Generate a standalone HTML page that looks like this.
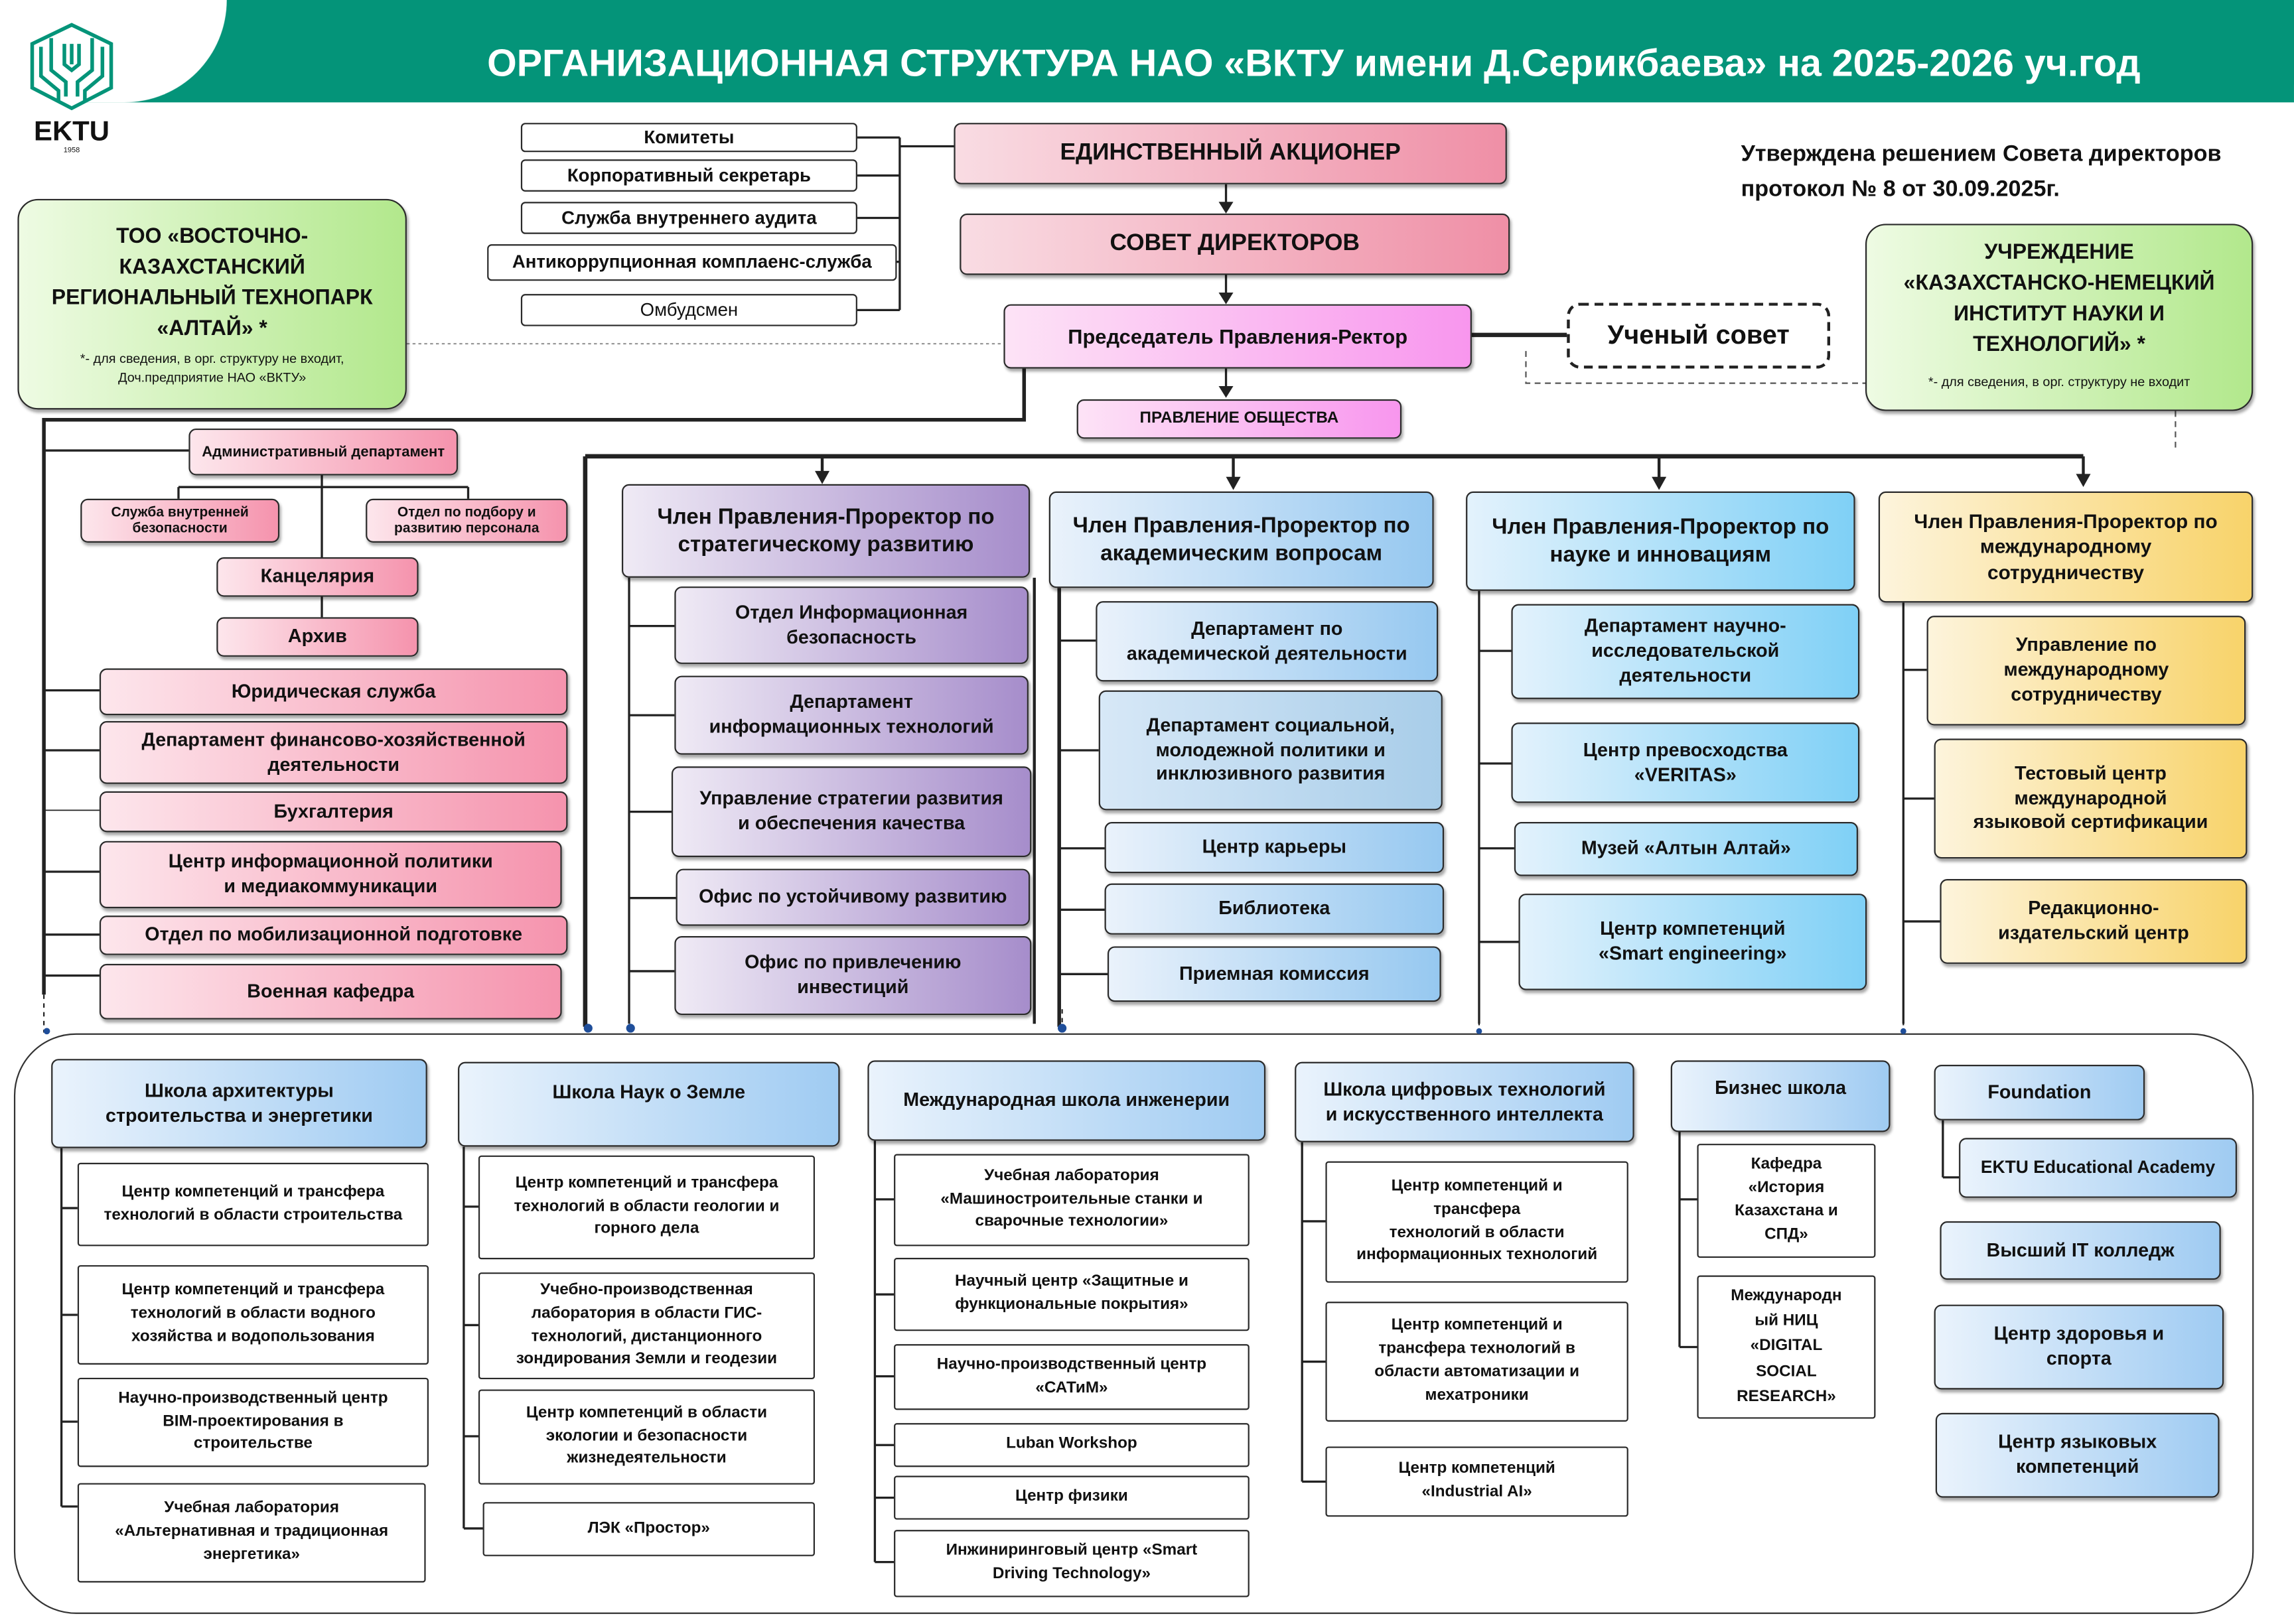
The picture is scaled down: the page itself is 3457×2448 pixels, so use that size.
<!DOCTYPE html>
<html><head><meta charset="utf-8">
<style>
html,body{margin:0;padding:0;background:#fff;}
#wrap{width:3457px;height:2448px;overflow:hidden;position:relative;}
#c{position:absolute;left:0;top:0;width:1568px;height:1110px;transform:scale(2.2047);transform-origin:0 0;font-family:"Liberation Sans","DejaVu Sans",sans-serif;}
.b{position:absolute;display:flex;align-items:center;justify-content:center;text-align:center;font-weight:bold;box-sizing:border-box;border:1.5px solid #2a2a2a;border-radius:5px;color:#111;line-height:1.3;box-shadow:1px 2px 2px rgba(0,0,0,.35);padding:0 3px;}
.w{background:#fff;border-radius:2px;box-shadow:none;font-size:11px;line-height:1.45;}
.wt{background:#fff;border-radius:3px;box-shadow:none;font-size:12.5px;}
.pk{background:linear-gradient(90deg,#fde6ec,#f593ad);font-size:13px;}
.pk2{background:linear-gradient(90deg,#f9dce3,#ef8fa6);font-size:16px;}
.mg{background:linear-gradient(90deg,#fde3f6,#f896ee);font-size:14px;}
.pu{background:linear-gradient(90deg,#efeaf5,#a68dcb);font-size:13px;}
.bl{background:linear-gradient(90deg,#eaf2fb,#96c8f0);font-size:13px;}
.sc{background:linear-gradient(90deg,#e3f2fc,#7fd0f6);font-size:13px;}
.ye{background:linear-gradient(90deg,#fdf4dc,#f8d36a);font-size:13px;}
.gr{background:linear-gradient(90deg,#eefbe3,#b2e88c);border-radius:14px;flex-direction:column;}
.sh{background:linear-gradient(90deg,#eaf3fc,#9fcbf2);font-size:13px;}
.hd{font-size:15px;}
svg{position:absolute;left:0;top:0;}
</style></head><body><div id="wrap"><div id="c">
<div style="position:absolute;left:0;top:0;width:1568px;height:70px;background:#049479;"></div>
<div style="position:absolute;left:-60px;top:-40px;width:215px;height:110px;background:#fff;border-radius:0 0 70px 0;"></div>
<div style="position:absolute;left:333px;top:28px;width:1150px;color:#fff;font-weight:bold;font-size:26px;white-space:nowrap;">ОРГАНИЗАЦИОННАЯ СТРУКТУРА НАО «ВКТУ имени Д.Серикбаева» на 2025-2026 уч.год</div>
<svg width="1568" height="1110" viewBox="0 0 1568 1110">
<g fill="none" stroke="#049479" stroke-width="2.5">
<polygon points="49,17 76,30 76,60 49,74 22,60 22,30"/>
<polyline points="28,32 28,52 40,62 40,70"/><polyline points="70,32 70,52 58,62 58,70"/>
<polyline points="35,26 35,48 45,56 45,66"/><polyline points="63,26 63,48 53,56 53,66"/>
<polyline points="44,30 44,44 49,48 54,44 54,30"/><line x1="49" y1="30" x2="49" y2="44"/>
</g>
<text x="49" y="96" font-size="19" font-weight="bold" text-anchor="middle" fill="#111" font-family="Liberation Sans">EKTU</text>
<text x="49" y="104" font-size="5" text-anchor="middle" fill="#111" font-family="Liberation Sans">1958</text>
<g stroke="#222" stroke-width="1.5" fill="none">
<line x1="586" y1="94" x2="615" y2="94"/><line x1="586" y1="120" x2="615" y2="120"/><line x1="586" y1="149" x2="615" y2="149"/><line x1="613" y1="179" x2="615" y2="179"/><line x1="586" y1="212" x2="615" y2="212"/>
<line x1="615" y1="94" x2="615" y2="212"/><line x1="615" y1="100" x2="652" y2="100"/>
<line x1="838" y1="126" x2="838" y2="140"/><line x1="838" y1="188" x2="838" y2="202"/><line x1="838" y1="252" x2="838" y2="266"/>
<line x1="1006" y1="229" x2="1071" y2="229" stroke-width="3"/>
<line x1="278" y1="235" x2="686" y2="235" stroke="#999" stroke-dasharray="2,2" stroke-width="1"/>
<polyline points="1043,240 1043,262 1275,262" stroke="#555" stroke-dasharray="4,3" stroke-width="1"/>
<line x1="1487" y1="281" x2="1487" y2="306" stroke="#555" stroke-dasharray="4,3" stroke-width="1"/>
<polyline points="700,252 700,287 30,287 30,680" stroke-width="2.5"/>
<line x1="30" y1="680" x2="30" y2="706" stroke-dasharray="3,3" stroke-width="1"/>
<line x1="30" y1="308" x2="129" y2="308"/>
<line x1="220" y1="325" x2="220" y2="381"/>
<line x1="122" y1="333" x2="320" y2="333"/><line x1="122" y1="333" x2="122" y2="341"/><line x1="320" y1="333" x2="320" y2="341"/>
<line x1="220" y1="408" x2="220" y2="422"/>
<line x1="30" y1="472" x2="68" y2="472"/><line x1="30" y1="513" x2="68" y2="513"/><line x1="30" y1="554" x2="68" y2="554" stroke-width="0.8"/><line x1="30" y1="596" x2="68" y2="596"/><line x1="30" y1="639" x2="68" y2="639"/><line x1="30" y1="667" x2="68" y2="667"/>
<line x1="400" y1="312" x2="1424" y2="312" stroke-width="3"/>
<line x1="562" y1="312" x2="562" y2="324" stroke-width="2"/><line x1="843" y1="312" x2="843" y2="328" stroke-width="2"/><line x1="1134" y1="312" x2="1134" y2="328" stroke-width="2"/><line x1="1424" y1="312" x2="1424" y2="326" stroke-width="2"/>
<line x1="400" y1="312" x2="400" y2="702" stroke-width="3"/>
<line x1="430" y1="395" x2="430" y2="700"/>
<line x1="430" y1="428" x2="461" y2="428"/><line x1="430" y1="489" x2="461" y2="489"/><line x1="430" y1="555" x2="459" y2="555"/><line x1="430" y1="614" x2="462" y2="614"/><line x1="430" y1="664" x2="461" y2="664"/>
<line x1="707" y1="395" x2="707" y2="700" stroke-width="2"/>
<line x1="724" y1="402" x2="724" y2="702" stroke-width="2.5"/>
<line x1="724" y1="438" x2="749" y2="438"/><line x1="724" y1="513" x2="751" y2="513"/><line x1="724" y1="580" x2="755" y2="580"/><line x1="724" y1="622" x2="755" y2="622"/><line x1="724" y1="666" x2="757" y2="666"/>
<line x1="1011" y1="404" x2="1011" y2="700"/>
<line x1="1011" y1="445" x2="1033" y2="445"/><line x1="1011" y1="522" x2="1033" y2="522"/><line x1="1011" y1="580" x2="1035" y2="580"/><line x1="1011" y1="644" x2="1038" y2="644"/>
<line x1="1301" y1="412" x2="1301" y2="700"/>
<line x1="1301" y1="458" x2="1317" y2="458"/><line x1="1301" y1="546" x2="1322" y2="546"/><line x1="1301" y1="630" x2="1326" y2="630"/>
<g stroke-dasharray="3,3" stroke-width="1"><line x1="430" y1="690" x2="430" y2="706"/><line x1="726" y1="690" x2="726" y2="706"/><line x1="1011" y1="680" x2="1011" y2="706"/><line x1="1301" y1="680" x2="1301" y2="706"/></g>
<rect x="10" y="707" width="1530" height="396" rx="42" stroke="#333" stroke-width="1"/>
<line x1="42" y1="785" x2="42" y2="1030"/><line x1="42" y1="826" x2="53" y2="826"/><line x1="42" y1="899" x2="53" y2="899"/><line x1="42" y1="972" x2="53" y2="972"/><line x1="42" y1="1030" x2="53" y2="1030"/>
<line x1="317" y1="784" x2="317" y2="1045"/><line x1="317" y1="825" x2="327" y2="825"/><line x1="317" y1="906" x2="327" y2="906"/><line x1="317" y1="982" x2="327" y2="982"/><line x1="317" y1="1045" x2="330" y2="1045"/>
<line x1="598" y1="780" x2="598" y2="1068"/><line x1="598" y1="820" x2="611" y2="820"/><line x1="598" y1="885" x2="611" y2="885"/><line x1="598" y1="941" x2="611" y2="941"/><line x1="598" y1="988" x2="611" y2="988"/><line x1="598" y1="1024" x2="611" y2="1024"/><line x1="598" y1="1068" x2="611" y2="1068"/>
<line x1="890" y1="781" x2="890" y2="1013"/><line x1="890" y1="835" x2="906" y2="835"/><line x1="890" y1="931" x2="906" y2="931"/><line x1="890" y1="1013" x2="906" y2="1013"/>
<line x1="1148" y1="774" x2="1148" y2="921"/><line x1="1148" y1="820" x2="1160" y2="820"/><line x1="1148" y1="921" x2="1160" y2="921"/>
<line x1="1328" y1="766" x2="1328" y2="805"/><line x1="1328" y1="805" x2="1339" y2="805"/>
</g>
<g fill="#222">
<polygon points="833,138 843,138 838,146"/><polygon points="833,200 843,200 838,208"/><polygon points="833,264 843,264 838,272"/>
<polygon points="557,322 567,322 562,331"/><polygon points="838,326 848,326 843,335"/><polygon points="1129,326 1139,326 1134,335"/><polygon points="1419,324 1429,324 1424,333"/>
</g>
<g fill="#1f4e9a"><circle cx="32" cy="705" r="2.2"/><circle cx="402" cy="703" r="3"/><circle cx="431" cy="703" r="3"/><circle cx="726" cy="703" r="3"/><circle cx="1011" cy="705" r="2"/><circle cx="1301" cy="705" r="2"/></g>
</svg>

<div style="position:absolute;left:1190px;top:94px;font-weight:bold;font-size:15.5px;line-height:24px;color:#111;">Утверждена решением Совета директоров<br>протокол № 8 от 30.09.2025г.</div>

<div class="b wt" style="left:356px;top:84px;width:230px;height:20px;">Комитеты</div>
<div class="b wt" style="left:356px;top:109px;width:230px;height:22px;">Корпоративный секретарь</div>
<div class="b wt" style="left:356px;top:138px;width:230px;height:22px;">Служба внутреннего аудита</div>
<div class="b wt" style="left:333px;top:167px;width:280px;height:25px;">Антикоррупционная комплаенс-служба</div>
<div class="b wt" style="left:356px;top:201px;width:230px;height:22px;font-weight:normal;">Омбудсмен</div>

<div class="b pk2" style="left:652px;top:84px;width:378px;height:42px;">ЕДИНСТВЕННЫЙ АКЦИОНЕР</div>
<div class="b pk2" style="left:656px;top:146px;width:376px;height:42px;">СОВЕТ ДИРЕКТОРОВ</div>
<div class="b mg" style="left:686px;top:208px;width:320px;height:44px;">Председатель Правления-Ректор</div>
<div class="b" style="left:1071px;top:207px;width:180px;height:45px;border:2px dashed #222;border-radius:9px;box-shadow:none;font-size:18px;background:#fff;">Ученый совет</div>
<div class="b mg" style="left:736px;top:273px;width:222px;height:27px;font-size:11px;">ПРАВЛЕНИЕ ОБЩЕСТВА</div>

<div class="b gr" style="left:12px;top:136px;width:266px;height:144px;font-size:14.5px;line-height:21px;">ТОО «ВОСТОЧНО-<br>КАЗАХСТАНСКИЙ<br>РЕГИОНАЛЬНЫЙ ТЕХНОПАРК<br>«АЛТАЙ» *<span style="font-size:9px;font-weight:normal;line-height:13px;margin-top:3px;">*- для сведения, в орг. структуру не входит,<br>Доч.предприятие НАО «ВКТУ»</span></div>
<div class="b gr" style="left:1275px;top:153px;width:265px;height:128px;font-size:14.5px;line-height:21px;">УЧРЕЖДЕНИЕ<br>«КАЗАХСТАНСКО-НЕМЕЦКИЙ<br>ИНСТИТУТ НАУКИ И<br>ТЕХНОЛОГИЙ» *<span style="font-size:9px;font-weight:normal;margin-top:4px;">*- для сведения, в орг. структуру не входит</span></div>

<div class="b pk" style="left:129px;top:293px;width:184px;height:32px;font-size:10px;">Административный департамент</div>
<div class="b pk" style="left:55px;top:341px;width:136px;height:30px;font-size:9.5px;line-height:1.2;">Служба внутренней<br>безопасности</div>
<div class="b pk" style="left:250px;top:341px;width:138px;height:30px;font-size:9.5px;line-height:1.2;">Отдел по подбору и<br>развитию персонала</div>
<div class="b pk" style="left:148px;top:381px;width:138px;height:27px;">Канцелярия</div>
<div class="b pk" style="left:148px;top:422px;width:138px;height:27px;">Архив</div>
<div class="b pk" style="left:68px;top:457px;width:320px;height:32px;">Юридическая служба</div>
<div class="b pk" style="left:68px;top:493px;width:320px;height:43px;">Департамент финансово-хозяйственной<br>деятельности</div>
<div class="b pk" style="left:68px;top:541px;width:320px;height:28px;">Бухгалтерия</div>
<div class="b pk" style="left:68px;top:575px;width:316px;height:46px;">Центр информационной политики<br>и медиакоммуникации</div>
<div class="b pk" style="left:68px;top:626px;width:320px;height:27px;">Отдел по мобилизационной подготовке</div>
<div class="b pk" style="left:68px;top:659px;width:316px;height:38px;">Военная кафедра</div>

<div class="b pu hd" style="left:425px;top:331px;width:279px;height:64px;">Член Правления-Проректор по<br>стратегическому развитию</div>
<div class="b pu" style="left:461px;top:401px;width:242px;height:53px;">Отдел Информационная<br>безопасность</div>
<div class="b pu" style="left:461px;top:462px;width:242px;height:54px;">Департамент<br>информационных технологий</div>
<div class="b pu" style="left:459px;top:524px;width:246px;height:62px;">Управление стратегии развития<br>и обеспечения качества</div>
<div class="b pu" style="left:462px;top:594px;width:242px;height:39px;">Офис по устойчивому развитию</div>
<div class="b pu" style="left:461px;top:640px;width:244px;height:54px;">Офис по привлечению<br>инвестиций</div>

<div class="b bl hd" style="left:717px;top:336px;width:263px;height:66px;">Член Правления-Проректор по<br>академическим вопросам</div>
<div class="b bl" style="left:749px;top:411px;width:234px;height:55px;">Департамент по<br>академической деятельности</div>
<div class="b bl" style="left:751px;top:472px;width:235px;height:82px;background:linear-gradient(90deg,#d7e8f7,#a8cde9);">Департамент социальной,<br>молодежной политики и<br>инклюзивного развития</div>
<div class="b bl" style="left:755px;top:562px;width:232px;height:35px;">Центр карьеры</div>
<div class="b bl" style="left:755px;top:604px;width:232px;height:35px;">Библиотека</div>
<div class="b bl" style="left:757px;top:647px;width:228px;height:38px;">Приемная комиссия</div>

<div class="b sc hd" style="left:1002px;top:336px;width:266px;height:68px;">Член Правления-Проректор по<br>науке и инновациям</div>
<div class="b sc" style="left:1033px;top:413px;width:238px;height:65px;">Департамент научно-<br>исследовательской<br>деятельности</div>
<div class="b sc" style="left:1033px;top:494px;width:238px;height:55px;">Центр превосходства<br>«VERITAS»</div>
<div class="b sc" style="left:1035px;top:562px;width:235px;height:37px;">Музей «Алтын Алтай»</div>
<div class="b sc" style="left:1038px;top:611px;width:238px;height:66px;">Центр компетенций<br>«Smart engineering»</div>

<div class="b ye hd" style="left:1284px;top:336px;width:256px;height:76px;font-size:13.5px;">Член Правления-Проректор по<br>международному<br>сотрудничеству</div>
<div class="b ye" style="left:1317px;top:421px;width:218px;height:75px;">Управление по<br>международному<br>сотрудничеству</div>
<div class="b ye" style="left:1322px;top:505px;width:214px;height:82px;">Тестовый центр<br>международной<br>языковой сертификации</div>
<div class="b ye" style="left:1326px;top:601px;width:210px;height:58px;">Редакционно-<br>издательский центр</div>

<div class="b sh" style="left:35px;top:724px;width:257px;height:61px;">Школа архитектуры<br>строительства и энергетики</div>
<div class="b w" style="left:53px;top:795px;width:240px;height:57px;">Центр компетенций и трансфера<br>технологий в области строительства</div>
<div class="b w" style="left:53px;top:865px;width:240px;height:68px;">Центр компетенций и трансфера<br>технологий в области водного<br>хозяйства и водопользования</div>
<div class="b w" style="left:53px;top:942px;width:240px;height:61px;">Научно-производственный центр<br>BIM-проектирования в<br>строительстве</div>
<div class="b w" style="left:53px;top:1014px;width:238px;height:68px;">Учебная лаборатория<br>«Альтернативная и традиционная<br>энергетика»</div>

<div class="b sh" style="left:313px;top:726px;width:261px;height:58px;align-items:flex-start;padding-top:12px;">Школа Наук о Земле</div>
<div class="b w" style="left:327px;top:790px;width:230px;height:71px;">Центр компетенций и трансфера<br>технологий в области геологии и<br>горного дела</div>
<div class="b w" style="left:327px;top:870px;width:230px;height:73px;">Учебно-производственная<br>лаборатория в области ГИС-<br>технологий, дистанционного<br>зондирования Земли и геодезии</div>
<div class="b w" style="left:327px;top:950px;width:230px;height:65px;">Центр компетенций в области<br>экологии и безопасности<br>жизнедеятельности</div>
<div class="b w" style="left:330px;top:1027px;width:227px;height:37px;">ЛЭК «Простор»</div>

<div class="b sh" style="left:593px;top:725px;width:272px;height:55px;">Международная школа инженерии</div>
<div class="b w" style="left:611px;top:789px;width:243px;height:63px;">Учебная лаборатория<br>«Машиностроительные станки и<br>сварочные технологии»</div>
<div class="b w" style="left:611px;top:860px;width:243px;height:50px;">Научный центр «Защитные и<br>функциональные покрытия»</div>
<div class="b w" style="left:611px;top:919px;width:243px;height:45px;">Научно-производственный центр<br>«САТиМ»</div>
<div class="b w" style="left:611px;top:973px;width:243px;height:30px;">Luban Workshop</div>
<div class="b w" style="left:611px;top:1009px;width:243px;height:30px;">Центр физики</div>
<div class="b w" style="left:611px;top:1046px;width:243px;height:46px;">Инжиниринговый центр «Smart<br>Driving Technology»</div>

<div class="b sh" style="left:885px;top:726px;width:232px;height:55px;">Школа цифровых технологий<br>и искусственного интеллекта</div>
<div class="b w" style="left:906px;top:794px;width:207px;height:83px;">Центр компетенций и<br>трансфера<br>технологий в области<br>информационных технологий</div>
<div class="b w" style="left:906px;top:890px;width:207px;height:82px;">Центр компетенций и<br>трансфера технологий в<br>области автоматизации и<br>мехатроники</div>
<div class="b w" style="left:906px;top:989px;width:207px;height:48px;">Центр компетенций<br>«Industrial AI»</div>

<div class="b sh" style="left:1142px;top:725px;width:150px;height:49px;align-items:flex-start;padding-top:10px;">Бизнес школа</div>
<div class="b w" style="left:1160px;top:782px;width:122px;height:78px;">Кафедра<br>«История<br>Казахстана и<br>СПД»</div>
<div class="b w" style="left:1160px;top:872px;width:122px;height:98px;line-height:1.55;">Международн<br>ый НИЦ<br>«DIGITAL<br>SOCIAL<br>RESEARCH»</div>

<div class="b sh" style="left:1322px;top:728px;width:144px;height:38px;">Foundation</div>
<div class="b sh" style="left:1339px;top:778px;width:190px;height:41px;font-size:12px;">EKTU Educational Academy</div>
<div class="b sh" style="left:1326px;top:835px;width:192px;height:40px;">Высший IT колледж</div>
<div class="b sh" style="left:1322px;top:892px;width:198px;height:58px;">Центр здоровья и<br>спорта</div>
<div class="b sh" style="left:1323px;top:966px;width:194px;height:58px;">Центр языковых<br>компетенций</div>
</div></div></body></html>
